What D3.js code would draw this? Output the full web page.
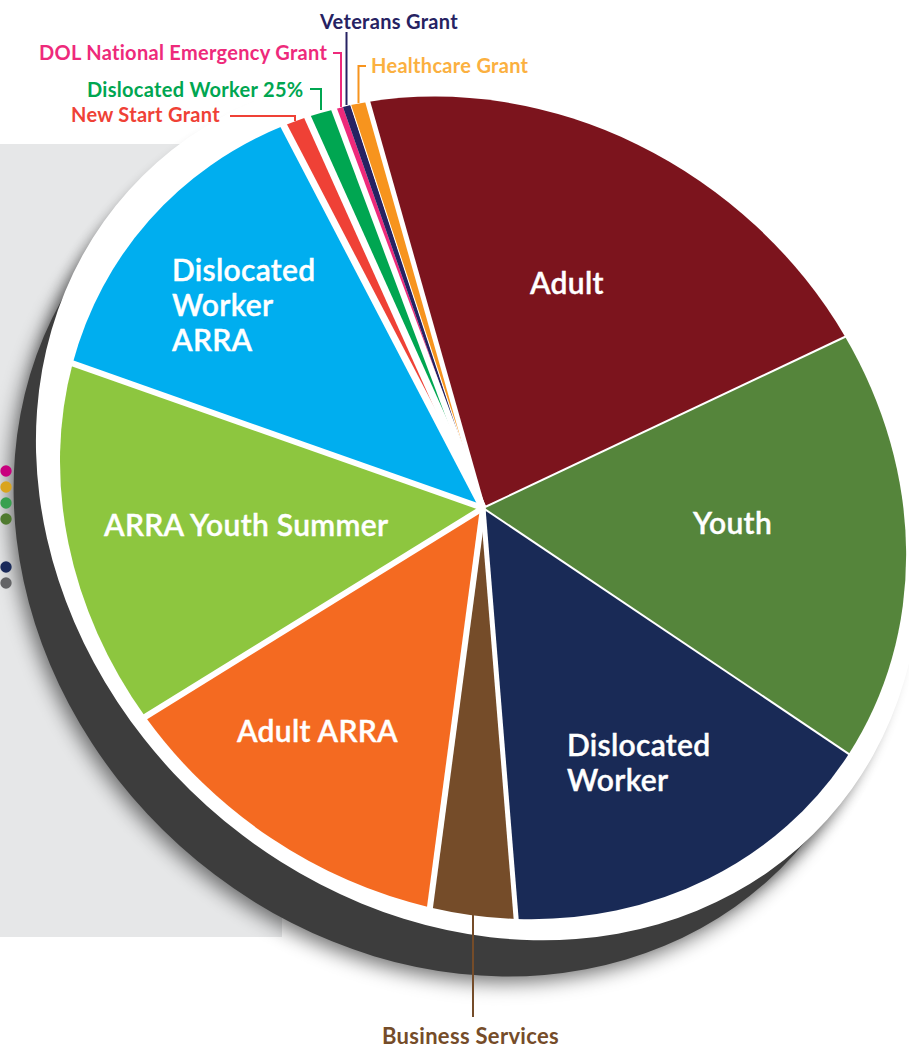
<!DOCTYPE html>
<html lang="en">
<head>
<meta charset="UTF-8">
<title>Funding pie</title>
<script src="https://cdn.jsdelivr.net/npm/d3@7"></script>
<style>
    html, body { margin: 0; padding: 0; background: #fff; overflow: hidden; }
    svg { display: block; }
    text { font-family: Lato, "Open Sans", sans-serif; }
</style>
</head>
<body>
<svg width="909" height="1049" viewBox="0 0 909 1049"></svg>
<script>
    // share of the total (the pie is drawn tilted, so these are before the tilt)
    const categories = ["Adult", "Youth", "Dislocated Worker", "Business Services", "Adult ARRA", "ARRA Youth Summer",
        "Dislocated Worker ARRA", "New Start Grant", "Dislocated Worker 25%", "DOL National Emergency Grant", "Veterans Grant", "Healthcare Grant"];
    const shares = [20.75, 17.03, 15.36, 3.25, 12.72, 14.19, 13.28, 1.0, 1.08, 0.36, 0.31, 0.67];
    const colors = ["#7c141d", "#55853b", "#192a56", "#754c29", "#f46a21", "#8dc63f",
        "#00aeef", "#ef4136", "#00a651", "#ee2a7b", "#262262", "#f7941e"];
    const dotColors = ["#c8007e", "#d9a41e", "#38a04f", "#4f7a2f", "#1a2a5a", "#636466"];
    const dotRows = [0, 1, 2, 3, 6, 7];

    const cx = 483, cy = 508, rA = 441, rB = 392, tilt = 38;
    const startDeg = -50.6;
    // white gap after each slice, px
    const gaps = [2, 2, 5, 6, 6, 6, 7, 7, 6, 0, 1, 5];

    const svg = d3.select("svg");
    const defs = svg.append("defs");
    function blur(id, dev) {
        defs.append("filter").attr("id", id)
            .attr("x", "-20%").attr("y", "-20%").attr("width", "140%").attr("height", "140%")
            .append("feGaussianBlur").attr("stdDeviation", dev);
    }
    blur("soft", 10);
    blur("softer", 7);

    function tiltedEllipse(x, y, a, b, rot) {
        return svg.append("ellipse").attr("rx", a).attr("ry", b)
            .attr("transform", `translate(${x},${y}) rotate(${rot})`);
    }

    // grey panel behind
    svg.append("rect").attr("x", 0).attr("y", 144).attr("width", 282).attr("height", 793).attr("fill", "#e6e7e8");

    // soft shadows, then the dots that stick out from under the pie, dark rim, white rim
    tiltedEllipse(447, 551, 462, 405, 42).attr("fill", "#000").attr("opacity", 0.55).attr("filter", "url(#soft)");
    tiltedEllipse(466, 523, 468, 403, 42).attr("fill", "#000").attr("opacity", 0.4).attr("filter", "url(#softer)");
    const dotY = d3.scaleLinear().domain([0, 7]).range([471, 583]);
    svg.selectAll(".dot").data(dotRows).join("circle").attr("class", "dot")
        .attr("cx", 6).attr("cy", d => dotY(d)).attr("r", 5.7)
        .attr("fill", (d, i) => dotColors[i]);
    tiltedEllipse(451, 545, 462, 405, 42).attr("fill", "#3d3d3d");
    tiltedEllipse(478, 505, 470, 405, 42).attr("fill", "#fff");

    // slices
    const pie = d3.pie().sort(null)
        .startAngle(startDeg * Math.PI / 180)
        .endAngle((startDeg + 360) * Math.PI / 180);
    const arcs = pie(shares);
    const arc = d3.arc().innerRadius(0).outerRadius(1);
    svg.append("g").attr("transform", `translate(${cx},${cy}) rotate(${tilt}) scale(${rA},${rB})`)
        .selectAll("path").data(arcs).join("path")
        .attr("d", arc)
        .attr("fill", (d, i) => colors[i]);

    // separators between slices
    svg.append("g").attr("transform", `translate(${cx},${cy}) rotate(${tilt})`)
        .selectAll("line").data(arcs).join("line")
        .attr("x1", 0).attr("y1", 0)
        .attr("x2", d => Math.sin(d.endAngle) * (rA + 3))
        .attr("y2", d => -Math.cos(d.endAngle) * (rB + 3))
        .attr("stroke", "#fff")
        .attr("stroke-width", (d, i) => gaps[i]);

    // leader lines
    const leaders = [
        {i: 10, pts: [[346.5, 32], [346.5, 105]]},
        {i: 9, pts: [[333, 53], [341, 53], [341, 107]]},
        {i: 11, pts: [[366, 66], [358.5, 66], [358.5, 103]]},
        {i: 8, pts: [[310, 89], [321, 89], [321, 110]]},
        {i: 7, pts: [[230, 116], [295, 116], [295, 121]]},
        {i: 3, pts: [[473, 915], [473, 1017]]}
    ];
    svg.selectAll(".leader").data(leaders).join("path").attr("class", "leader")
        .attr("d", d => d3.line()(d.pts))
        .attr("fill", "none")
        .attr("stroke", d => colors[d.i])
        .attr("stroke-width", 2);

    // outside labels
    const outside = [
        {i: 10, x: 320, y: 29, size: 20, fill: "#262262"},
        {i: 9, x: 39, y: 60, size: 20, fill: "#ee2a7b"},
        {i: 11, x: 371, y: 73, size: 20, fill: "#fbb040"},
        {i: 8, x: 87, y: 97, size: 20, fill: "#00a651"},
        {i: 7, x: 71, y: 122, size: 20, fill: "#ef4136"},
        {i: 3, x: 382, y: 1044, size: 22, fill: "#754c29"}
    ];
    svg.selectAll(".outer").data(outside).join("text").attr("class", "outer")
        .attr("x", d => d.x).attr("y", d => d.y)
        .attr("fill", d => d.fill)
        .attr("font-size", d => d.size).attr("font-weight", 700)
        .attr("letter-spacing", 0.3)
        .text(d => categories[d.i]);

    // labels on the slices
    const inside = [
        {lines: ["Adult"], x: 530, y: 294},
        {lines: ["Youth"], x: 693, y: 534},
        {lines: ["Dislocated", "Worker"], x: 567, y: 756},
        {lines: ["Adult ARRA"], x: 237, y: 742},
        {lines: ["ARRA Youth Summer"], x: 104, y: 536},
        {lines: ["Dislocated", "Worker", "ARRA"], x: 172, y: 281}
    ];
    const insideT = svg.selectAll(".inner").data(inside).join("text").attr("class", "inner")
        .attr("fill", "#fff").attr("stroke", "#fff").attr("stroke-width", 0.4)
        .attr("font-size", 30).attr("font-weight", 600)
        .attr("letter-spacing", 0.3)
        .attr("transform", d => `translate(${d.x},${d.y})`);
    insideT.selectAll("tspan").data(d => d.lines).join("tspan")
        .attr("x", 0).attr("y", (d, i) => i * 35).text(d => d);
</script>
</body>
</html>
